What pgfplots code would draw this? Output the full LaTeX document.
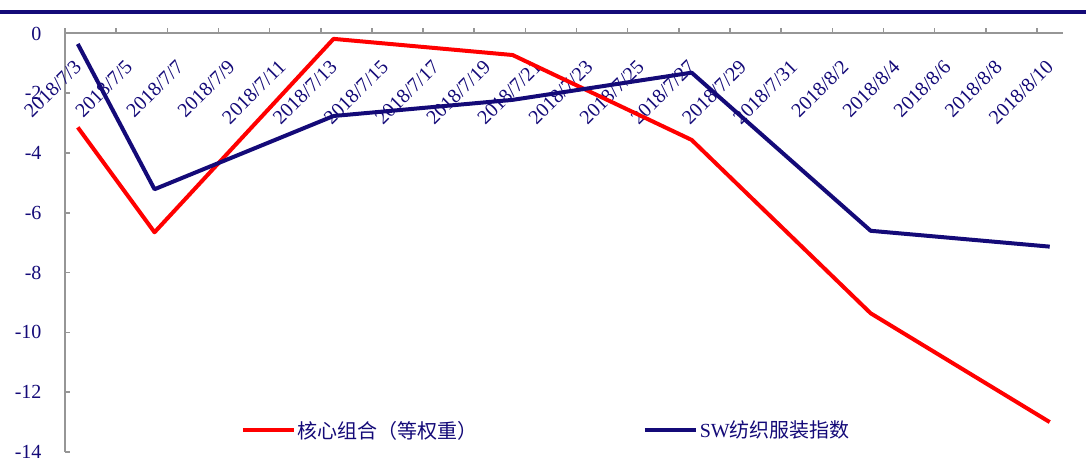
\documentclass[border=0pt]{standalone}
\usepackage{fontspec}
\setmainfont{Liberation Serif}
\newfontfamily\cjk{Noto Sans CJK SC}
\usepackage{pgfplots}
\pgfplotsset{compat=1.18}
\definecolor{navy}{RGB}{20,10,120}
\definecolor{axgray}{RGB}{150,150,150}
\definecolor{lred}{RGB}{255,0,0}
\newcommand\tickfont{\fontsize{20}{22}\selectfont}
\begin{document}
\begin{tikzpicture}
\begin{axis}[
    at={(65pt,16pt)}, anchor=south west,
    scale only axis, width=997.5pt, height=418.5pt,
    xmin=-0.5, xmax=38.5, ymin=-14, ymax=0,
    axis x line*=top, axis y line*=left,
    axis line style={axgray, line width=2pt, -},
    xtick={-0.5,1.5,...,37.5},
    xticklabels={2018/7/3,2018/7/5,2018/7/7,2018/7/9,2018/7/11,2018/7/13,2018/7/15,2018/7/17,2018/7/19,2018/7/21,2018/7/23,2018/7/25,2018/7/27,2018/7/29,2018/7/31,2018/8/2,2018/8/4,2018/8/6,2018/8/8,2018/8/10},
    ytick={-14,-12,...,0},
    xtick align=outside, ytick align=inside,
    major tick length=5pt,
    tick style={axgray, line width=1.6pt},
    /pgf/number format/assume math mode=true,
    xticklabel style={font=\tickfont, text=navy, xshift=8pt, yshift=-30pt, rotate=45, anchor=north east, inner sep=0pt},
    yticklabel style={font=\tickfont, text=navy, xshift=-20pt},
    clip=false,
    legend columns=2,
    legend style={draw=none, fill=none, at={(0.176,0.052)}, anchor=west,
        inner sep=0pt, font=\fontsize{20}{22}\selectfont, text=navy,
        /tikz/every even column/.append style={column sep=163pt}},
    legend image code/.code={\draw[#1] (0pt,0pt) -- (51pt,0pt);},
]
\addplot[lred, line width=4pt, line join=round] coordinates {
    (0,-3.14) (3,-6.65) (10,-0.18) (17,-0.72) (24,-3.56) (31,-9.36) (38,-13.0)
};
\addlegendentry{\cjk 核心组合（等权重）}
\addplot[navy, line width=4pt, line join=round] coordinates {
    (0,-0.35) (3,-5.21) (10,-2.76) (17,-2.22) (24,-1.31) (31,-6.60) (38,-7.13)
};
\addlegendentry{SW{\cjk 纺织服装指数}}
\end{axis}
\pgfresetboundingbox
\path[use as bounding box] (0,0) rectangle (1086pt,468pt);
\fill[navy] (0,454pt) rectangle (1086pt,458pt);
\end{tikzpicture}
\end{document}
